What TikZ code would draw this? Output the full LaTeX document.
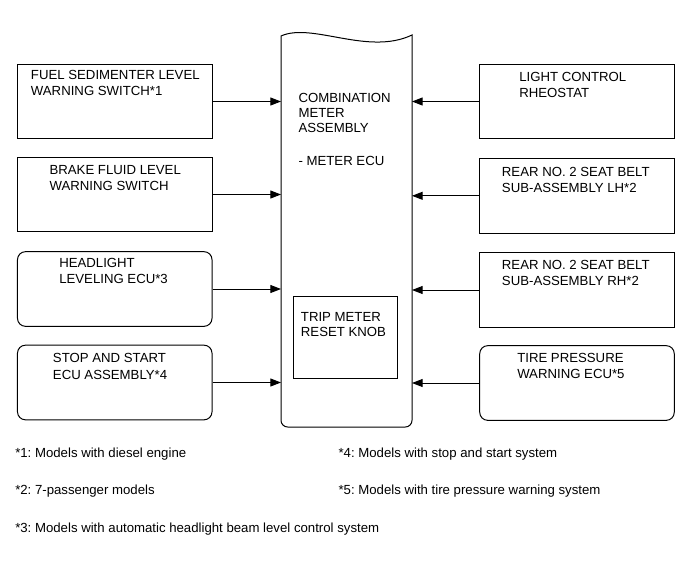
\documentclass[tikz,border=0pt]{standalone}
\usepackage{fontspec}
\setmainfont{Liberation Sans}
\usetikzlibrary{arrows.meta}
\definecolor{ECLine}{HTML}{000000}
\frenchspacing

\begin{document}
\begin{tikzpicture}[x=0.75pt,y=-0.75pt,
  ecbox/.style={draw=ECLine,line width=0.75pt,minimum width=145.9pt,minimum height=56pt,inner sep=0pt},
  ecround/.style={ecbox,rounded corners=6pt},
  ectext/.style={anchor=north west,inner sep=0pt,align=left,font=\fontsize{9.9}{12.3}\selectfont},
  ecnote/.style={anchor=north west,inner sep=0pt,font=\fontsize{9.9}{12}\selectfont},
  ecarrow/.style={draw=ECLine,line width=0.75pt,-{Triangle[length=8pt,width=6pt]}}]
\path[use as bounding box] (0,0) rectangle (690,561);
\draw[ECLine,line width=0.75pt] (281,36) .. controls (312,22) and (368,56) .. (412,35) -- (412,400) [rounded corners=5pt] -- (412,427) -- (281,427) -- (281,400) [sharp corners] -- cycle;
\coordinate (meterL) at (281,231);
\coordinate (meterR) at (412,231);
\node[draw=ECLine,line width=0.75pt,minimum width=78pt,minimum height=61.5pt,inner sep=0pt] (tripknob) at (345,337) {};
\node[ectext,font=\fontsize{9.9}{11.3}\selectfont] (metertxt) at (298.3,93.3) {COMBINATION\\METER\\ASSEMBLY};
\node[ectext] (ecutxt) at (298.3,156) {- METER ECU};
\node[ectext,font=\fontsize{9.9}{11.3}\selectfont] (triptxt) at (300.7,311.7) {TRIP METER\\RESET KNOB};
\node[ecbox] (fuel) at (114.75,101.5) {};
\node[ecbox] (brake) at (114.75,194.5) {};
\node[ecround] (headlight) at (114.75,289) {};
\node[ecround] (stopstart) at (114.75,382.5) {};
\node[ecbox] (rheostat) at (577,101.5) {};
\node[ecbox] (beltlh) at (577,195.8) {};
\node[ecbox] (beltrh) at (577,290) {};
\node[ecround] (tire) at (577,383) {};
\node[ectext] (fueltxt) at (30.7,70) {FUEL SEDIMENTER LEVEL\\WARNING SWITCH*1};
\node[ectext] (braketxt) at (49.3,165) {BRAKE FLUID LEVEL\\WARNING SWITCH};
\node[ectext] (headlighttxt) at (59,258) {HEADLIGHT\\LEVELING ECU*3};
\node[ectext] (stopstarttxt) at (52.7,353.3) {STOP AND START\\ECU ASSEMBLY*4};
\node[ectext] (rheostattxt) at (519,71.7) {LIGHT CONTROL\\RHEOSTAT};
\node[ectext] (beltlhtxt) at (501.7,166.7) {REAR NO. 2 SEAT BELT\\SUB-ASSEMBLY LH*2};
\node[ectext] (beltrhtxt) at (501.7,260) {REAR NO. 2 SEAT BELT\\SUB-ASSEMBLY RH*2};
\node[ectext] (tiretxt) at (517,353) {TIRE PRESSURE\\WARNING ECU*5};
\draw[ecarrow] (fuel.east) -- (fuel.east -| meterL);
\draw[ecarrow] (brake.east) -- (brake.east -| meterL);
\draw[ecarrow] (headlight.east) -- (headlight.east -| meterL);
\draw[ecarrow] (stopstart.east) -- (stopstart.east -| meterL);
\draw[ecarrow] (rheostat.west) -- (rheostat.west -| meterR);
\draw[ecarrow] (beltlh.west) -- (beltlh.west -| meterR);
\draw[ecarrow] (beltrh.west) -- (beltrh.west -| meterR);
\draw[ecarrow] (tire.west) -- (tire.west -| meterR);
\node[ecnote] (note1) at (15,447.7) {*1: Models with diesel engine};
\node[ecnote] (note2) at (15,485) {*2: 7-passenger models};
\node[ecnote] (note3) at (15,522.3) {*3: Models with automatic headlight beam level control system};
\node[ecnote] (note4) at (338.3,447.7) {*4: Models with stop and start system};
\node[ecnote] (note5) at (338.3,485) {*5: Models with tire pressure warning system};
\end{tikzpicture}
\end{document}
